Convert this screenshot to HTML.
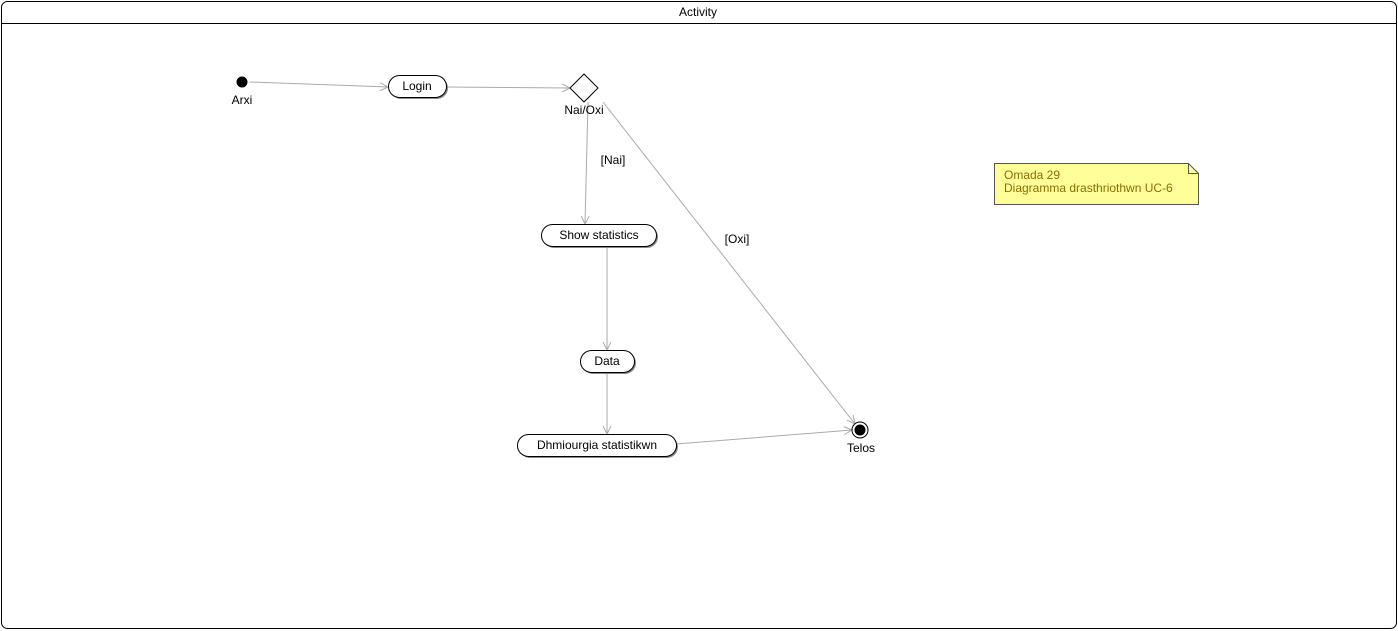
<!DOCTYPE html>
<html><head><meta charset="utf-8"><style>body{margin:0;background:#fff}svg{display:block}text{font-family:"Liberation Sans",sans-serif;font-size:12px;fill:#000}</style></head><body>
<svg width="1398" height="631" xmlns="http://www.w3.org/2000/svg">
<defs><marker id="a" markerWidth="10" markerHeight="10" refX="9" refY="5" orient="auto" markerUnits="userSpaceOnUse"><path d="M1,1 L9,5 L1,9" fill="none" stroke="#aaa"/></marker></defs>
<rect x="1.5" y="1.5" width="1395" height="627" rx="6" fill="#fff" stroke="#000"/>
<line x1="1.5" y1="23.5" x2="1396.5" y2="23.5" stroke="#000"/>
<text x="698" y="16" text-anchor="middle">Activity</text>
<g stroke="#aaa" fill="none" marker-end="url(#a)">
<line x1="250" y1="82" x2="388" y2="87"/>
<line x1="446" y1="87" x2="570" y2="88"/>
<line x1="588" y1="102" x2="585" y2="224"/>
<line x1="607" y1="248" x2="607" y2="350"/>
<line x1="607" y1="373" x2="607" y2="434"/>
<line x1="676" y1="444" x2="852" y2="430"/>
<line x1="603" y1="102" x2="855" y2="424"/>
</g>
<circle cx="242" cy="82" r="5.5" fill="#000"/>
<text x="242" y="104" text-anchor="middle">Arxi</text>
<g fill="#fff" stroke="#000">
<rect x="390" y="77" width="58" height="22" rx="11" fill="#888" stroke="none"/>
<rect x="388.5" y="75.5" width="58" height="22" rx="11"/>
<path d="M584,74 L598,88 L584,102 L570,88 Z"/>
<rect x="543" y="226" width="115" height="22" rx="11" fill="#888" stroke="none"/>
<rect x="541.5" y="224.5" width="115" height="22" rx="11"/>
<rect x="582" y="352" width="54" height="22" rx="11" fill="#888" stroke="none"/>
<rect x="580.5" y="350.5" width="54" height="22" rx="11"/>
<rect x="519" y="436" width="159" height="22" rx="11" fill="#888" stroke="none"/>
<rect x="517.5" y="434.5" width="159" height="22" rx="11"/>
<circle cx="860" cy="430" r="8"/>
</g>
<circle cx="860" cy="430" r="5.5" fill="#000"/>
<text x="417" y="90" text-anchor="middle">Login</text>
<text x="584" y="114" text-anchor="middle">Nai/Oxi</text>
<text x="613" y="164" text-anchor="middle">[Nai]</text>
<text x="737" y="243" text-anchor="middle">[Oxi]</text>
<text x="599" y="239" text-anchor="middle">Show statistics</text>
<text x="607" y="365" text-anchor="middle">Data</text>
<text x="597" y="449" text-anchor="middle">Dhmiourgia statistikwn</text>
<text x="861" y="452" text-anchor="middle">Telos</text>
<path d="M994.5,163.5 L1188.5,163.5 L1198.5,173.5 L1198.5,204.5 L994.5,204.5 Z" fill="#ffff99" stroke="#555"/>
<path d="M1188.5,163.5 L1188.5,173.5 L1198.5,173.5" fill="none" stroke="#555"/>
<text x="1004" y="179" style="fill:#8a6d00">Omada 29</text>
<text x="1004" y="192" style="fill:#8a6d00">Diagramma drasthriothwn UC-6</text>
</svg>
</body></html>
